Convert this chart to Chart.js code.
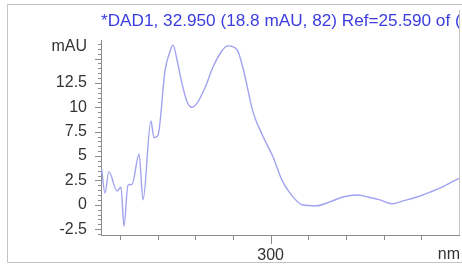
<!DOCTYPE html>
<html>
<head>
<meta charset="utf-8">
<script src="https://cdn.jsdelivr.net/npm/chart.js@4/dist/chart.umd.min.js"></script>
<style>
  html, body { margin: 0; padding: 0; background: #fff; }
  #wrap { width: 462px; height: 264px; position: relative; }
</style>
</head>
<body>
<div id="wrap"><canvas id="spec"></canvas></div>
<script>
'use strict';

// spectrum
var wavelengths = [210.4, 212.1, 214.2, 218.5, 220.6, 222.2, 224.3, 226.5, 230.2, 232.3,
  236.5, 238.1, 240.2, 244.0, 246.6, 248.2, 250.3, 252.9, 255.6, 258.2,
  260.9, 265.2, 269.4, 274.2, 277.4, 282.2, 285.4, 290.7, 296.0, 301.3,
  306.1, 310.3, 316.7, 324.6, 331.5, 338.4, 345.9, 351.7, 358.1, 364.5,
  370.3, 377.7, 384.6, 391.0, 396.8, 400.0];
var absorbance = [3.6, 1.2, 3.4, 1.4, 1.8, -2.2, 2.0, 2.1, 5.2, 0.5,
  8.6, 6.9, 7.1, 13.8, 15.7, 16.4, 14.9, 12.5, 10.6, 10.0,
  10.4, 12.0, 14.1, 15.8, 16.3, 15.9, 14.0, 9.5, 7.0, 4.9,
  2.5, 1.2, 0.0, -0.1, 0.3, 0.8, 1.0, 0.8, 0.5, 0.1,
  0.4, 0.8, 1.3, 1.8, 2.4, 2.7];

var title = '*DAD1, 32.950 (18.8 mAU, 82) Ref=25.590 of (';
var yLabelValues = [-2.5, 0, 2.5, 5, 7.5, 10, 12.5];
var yUnit = 'mAU';
var xTickValues = [220, 240, 260, 280, 300, 320, 340, 360, 380];
var xLabelValues = [300];
var xUnit = 'nm';

var grey = '#8c8c8c';
var labelFont = { family: 'Liberation Sans, Arial, sans-serif', size: 16 };

// frame, title, tick marks and unit labels
var decor = {
  id: 'decor',
  beforeDraw: function(chart) {
    var c = chart.ctx, a = chart.chartArea;
    c.save();
    c.strokeStyle = '#c4c4c4';
    c.lineWidth = 1;
    c.beginPath();
    c.moveTo(470, 4.5); c.lineTo(7.5, 4.5); c.lineTo(7.5, 262.5); c.lineTo(470, 262.5);
    c.stroke();
    c.beginPath();
    c.moveTo(a.right + 0.5, 10); c.lineTo(a.right + 0.5, a.bottom);
    c.stroke();
    c.restore();
  },
  afterDraw: function(chart) {
    var c = chart.ctx, a = chart.chartArea;
    var x = chart.scales.x, y = chart.scales.y;
    c.save();
    c.strokeStyle = grey;
    c.lineWidth = 1;
    c.beginPath();
    for (var v = -3; v <= 16.5; v += 0.5) {
      var py = Math.round(y.getPixelForValue(v)) + 0.5;
      var len = (Math.abs(v % 2.5) < 1e-6) ? 6 : 3;
      c.moveTo(a.left, py); c.lineTo(a.left - len, py);
    }
    xTickValues.forEach(function(t) {
      var px = Math.round(x.getPixelForValue(t)) + 0.5;
      var len = xLabelValues.indexOf(t) >= 0 ? 9 : 5;
      c.moveTo(px, a.bottom); c.lineTo(px, a.bottom + len);
    });
    c.stroke();

    c.fillStyle = '#333';
    c.font = '16px "Liberation Sans", Arial, sans-serif';
    c.textAlign = 'right';
    c.textBaseline = 'middle';
    c.fillText(yUnit, a.left - 14, 47);
    c.textBaseline = 'top';
    c.fillText(xUnit, a.right + 1, a.bottom + 12);

    c.beginPath();
    c.rect(0, 0, a.right, 40);
    c.clip();
    c.fillStyle = '#3c3ce0';
    c.font = '17.2px "Liberation Sans", Arial, sans-serif';
    c.textAlign = 'left';
    c.textBaseline = 'alphabetic';
    c.fillText(title, a.left, 26);
    c.restore();
  }
};

function main() {
  var ctx = document.getElementById('spec');
  var points = wavelengths.map(function(w, i) { return { x: w, y: absorbance[i] }; });

  window.specChart = new Chart(ctx, {
    type: 'line',
    data: {
      datasets: [{
        data: points,
        borderColor: '#a2a2f0',
        borderWidth: 1.4,
        pointRadius: 0,
        cubicInterpolationMode: 'monotone',
        fill: false
      }]
    },
    options: {
      responsive: true,
      maintainAspectRatio: false,
      animation: false,
      events: [],
      layout: { padding: { left: 0, top: 40, right: 3, bottom: 0 } },
      plugins: {
        legend: { display: false },
        tooltip: { enabled: false }
      },
      scales: {
        x: {
          type: 'linear',
          min: 210,
          max: 400,
          afterBuildTicks: function(scale) {
            scale.ticks = xLabelValues.map(function(v) { return { value: v }; });
          },
          afterFit: function(scale) { scale.height = 29; },
          ticks: { color: '#333', font: labelFont, padding: 11, maxRotation: 0 },
          grid: { display: false, drawTicks: false },
          border: { display: true, color: grey }
        },
        y: {
          min: -3.1,
          max: 16.9,
          afterBuildTicks: function(scale) {
            scale.ticks = yLabelValues.map(function(v) { return { value: v }; });
          },
          afterFit: function(scale) { scale.width = 101; },
          ticks: { color: '#333', font: labelFont, padding: 14 },
          grid: { display: false, drawTicks: false },
          border: { display: true, color: grey }
        }
      }
    },
    plugins: [decor]
  });
}

main();
</script>
</body>
</html>
